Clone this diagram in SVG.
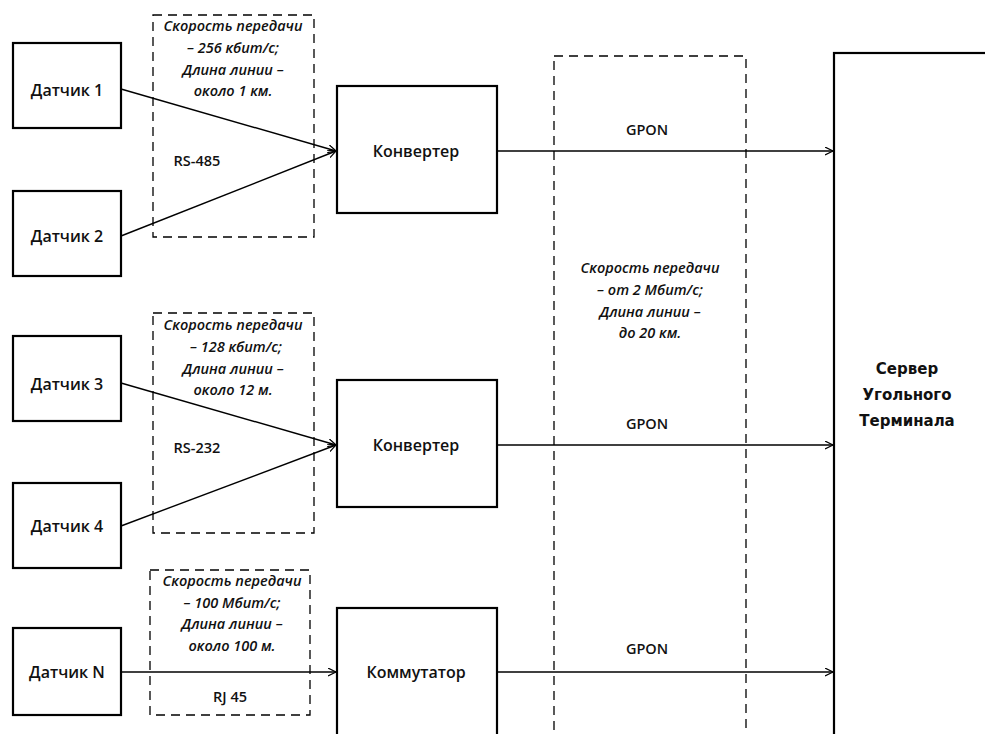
<svg xmlns="http://www.w3.org/2000/svg" width="985" height="734" viewBox="0 0 985 734">
<style>
.box{fill:#fff;stroke:#000;stroke-width:2.2}
.dash{fill:none;stroke:#000;stroke-width:1.3;stroke-dasharray:9,6}
.ln{fill:none;stroke:#000;stroke-width:1.4}
.lbl{font-family:"Open Sans","Liberation Sans",sans-serif;font-weight:600;font-size:16px;text-anchor:middle;fill:#111}
.sm{font-family:"Open Sans","Liberation Sans",sans-serif;font-weight:600;font-size:14.5px;text-anchor:middle;fill:#111}
.it{font-family:"Open Sans","Liberation Sans",sans-serif;font-style:italic;font-weight:600;font-size:14.5px;text-anchor:middle;fill:#111}
.srv{font-family:"DejaVu Sans",sans-serif;font-weight:bold;font-size:15px;text-anchor:middle;fill:#111}
</style>
<defs>
<marker id="arr" markerWidth="10" markerHeight="10" refX="8" refY="4" orient="auto" markerUnits="userSpaceOnUse">
<path d="M0,0 L8,4 L0,8" fill="none" stroke="#000" stroke-width="1.2"/>
</marker>
</defs>
<rect width="985" height="734" fill="#fff"/>

<g id="zones">
<rect class="dash" x="153" y="15" width="161" height="222"/>
<rect class="dash" x="153" y="313" width="161" height="220"/>
<rect class="dash" x="150" y="570" width="160" height="145"/>
<rect class="dash" x="554" y="56" width="192" height="700"/>
<text class="it" x="233" y="31">Скорость передачи</text>
<text class="it" x="233" y="53">– 256 кбит/с;</text>
<text class="it" x="233" y="75">Длина линии –</text>
<text class="it" x="233" y="96">около 1 км.</text>
<text class="sm" x="197" y="166">RS-485</text>
<text class="it" x="233" y="330">Скорость передачи</text>
<text class="it" x="236" y="352">– 128 кбит/с;</text>
<text class="it" x="233" y="374">Длина линии –</text>
<text class="it" x="233" y="395">около 12 м.</text>
<text class="sm" x="197" y="453">RS-232</text>
<text class="it" x="232" y="586">Скорость передачи</text>
<text class="it" x="232" y="608">–  100 Мбит/с;</text>
<text class="it" x="232" y="629">Длина линии –</text>
<text class="it" x="232" y="651">около 100 м.</text>
<text class="sm" x="230" y="702">RJ 45</text>
<text class="it" x="650" y="273">Скорость передачи</text>
<text class="it" x="650" y="295">– от 2 Мбит/с;</text>
<text class="it" x="650" y="317">Длина линии –</text>
<text class="it" x="650" y="338">до 20 км.</text>
<text class="sm" x="647" y="135">GPON</text>
<text class="sm" x="647" y="429">GPON</text>
<text class="sm" x="647" y="654">GPON</text>
</g>

<g id="connectors">
<line class="ln" x1="121" y1="89" x2="336" y2="151" marker-end="url(#arr)"/>
<line class="ln" x1="121" y1="236" x2="336" y2="151" marker-end="url(#arr)"/>
<line class="ln" x1="121" y1="383" x2="336" y2="445" marker-end="url(#arr)"/>
<line class="ln" x1="121" y1="526" x2="336" y2="445" marker-end="url(#arr)"/>
<line class="ln" x1="121" y1="672" x2="336" y2="672" marker-end="url(#arr)"/>
<line class="ln" x1="497" y1="151" x2="833" y2="151" marker-end="url(#arr)"/>
<line class="ln" x1="497" y1="445" x2="833" y2="445" marker-end="url(#arr)"/>
<line class="ln" x1="497" y1="672" x2="833" y2="672" marker-end="url(#arr)"/>
</g>

<g id="d1"><rect class="box" x="13" y="43" width="108" height="85"/><text class="lbl" x="67" y="96">Датчик 1</text></g>
<g id="d2"><rect class="box" x="13" y="191" width="108" height="85"/><text class="lbl" x="67" y="242">Датчик 2</text></g>
<g id="d3"><rect class="box" x="13" y="336" width="108" height="85"/><text class="lbl" x="67" y="390">Датчик 3</text></g>
<g id="d4"><rect class="box" x="13" y="483" width="108" height="85"/><text class="lbl" x="67" y="532">Датчик 4</text></g>
<g id="dn"><rect class="box" x="13" y="628" width="108" height="87"/><text class="lbl" x="67" y="678">Датчик N</text></g>
<g id="conv1"><rect class="box" x="337" y="86" width="160" height="127"/><text class="lbl" x="416" y="157">Конвертер</text></g>
<g id="conv2"><rect class="box" x="337" y="380" width="160" height="127"/><text class="lbl" x="416" y="451">Конвертер</text></g>
<g id="switch"><rect class="box" x="337" y="608" width="160" height="140"/><text class="lbl" x="416" y="678">Коммутатор</text></g>
<g id="server"><rect class="box" x="834" y="53" width="200" height="700"/>
<text class="srv" x="907" y="374">Сервер</text>
<text class="srv" x="907" y="400">Угольного</text>
<text class="srv" x="907" y="426">Терминала</text></g>
</svg>
